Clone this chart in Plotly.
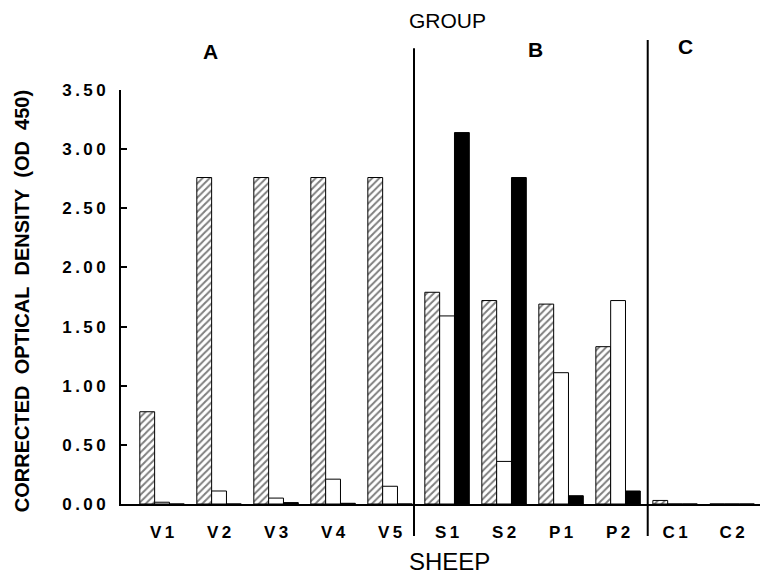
import plotly.graph_objects as go

sheep = ["V1", "V2", "V3", "V4", "V5", "S1", "S2", "P1", "P2", "C1", "C2"]
hatched = [0.78, 2.76, 2.76, 2.76, 2.76, 1.79, 1.72, 1.69, 1.33, 0.03, 0.0]
open_bars = [0.015, 0.11, 0.05, 0.21, 0.15, 1.59, 0.36, 1.11, 1.72, 0.0, 0.0]
solid = [0.0, 0.0, 0.012, 0.006, 0.0, 3.14, 2.76, 0.07, 0.11, 0.0, 0.0]
y_ticks = [0, 0.5, 1.0, 1.5, 2.0, 2.5, 3.0, 3.5]
groups = ["A", "B", "C"]

font = "Liberation Sans, Arial, sans-serif"
thin = "\u2009"
gap = "\u00a0\u00a0"
x_pos = list(range(len(sheep)))

fig = go.Figure()
fig.add_trace(go.Bar(
    x=x_pos, y=hatched, name="hatched",
    marker=dict(color="white", line=dict(color="black", width=1),
                pattern=dict(shape="/", fgcolor="black", bgcolor="white", size=5, solidity=0.4)),
))
fig.add_trace(go.Bar(
    x=x_pos, y=open_bars, name="open",
    marker=dict(color="white", line=dict(color="black", width=1)),
))
fig.add_trace(go.Bar(
    x=x_pos, y=solid, name="solid",
    marker=dict(color="black", line=dict(color="black", width=1)),
))

# group dividers, running from the top labels down past the sheep labels
for xd, top in [(4.42, 1.101), (8.52, 1.121)]:
    fig.add_shape(type="line", xref="x", yref="paper", x0=xd, x1=xd, y0=-0.077, y1=top,
                  line=dict(color="black", width=2))


def label(text, x, y, size, angle=0):
    fig.add_annotation(text=text, xref="paper", yref="paper", x=x, y=y,
                       xanchor="center", yanchor="middle", textangle=angle,
                       showarrow=False, font=dict(size=size, family=font, color="black"))


label("GROUP", 0.505, 1.168, 21)
for g, xg, yg in zip(groups, [0.1376, 0.640, 0.873], [1.092, 1.097, 1.104]):
    label("<b>" + g + "</b>", xg, yg, 21)
label("SHEEP", 0.5085, -0.140, 24)
label("<b>" + gap.join(["CORRECTED", "OPTICAL", "DENSITY", "(OD", "450)"]) + "</b>",
      -0.153, 0.49, 20, angle=-90)

# page body adds 8px on top and left, so the figure is 8px smaller
fig.update_layout(
    width=760, height=571,
    margin=dict(l=113, r=0, t=82, b=75),
    paper_bgcolor="white", plot_bgcolor="white",
    barmode="group", bargap=0.22, bargroupgap=0,
    showlegend=False,
    font=dict(family=font, color="black"),
    xaxis=dict(
        range=[-0.72, 10.63], tickmode="array", tickvals=x_pos,
        ticktext=["<b>" + s[0] + thin + s[1] + "</b>" for s in sheep],
        showline=True, linecolor="black", linewidth=2, ticks="",
        showgrid=False, zeroline=False, tickfont=dict(size=17),
        ticklabelstandoff=12,
    ),
    yaxis=dict(
        range=[0, 3.5], tickmode="array", tickvals=y_ticks,
        ticktext=["<b>" + thin.join("%.2f" % v) + "</b>" for v in y_ticks],
        showline=True, linecolor="black", linewidth=2, ticks="inside",
        ticklen=6, tickwidth=2, tickcolor="black",
        showgrid=False, zeroline=False, tickfont=dict(size=17),
        ticklabelstandoff=10,
    ),
)

fig.write_html("out.html")
